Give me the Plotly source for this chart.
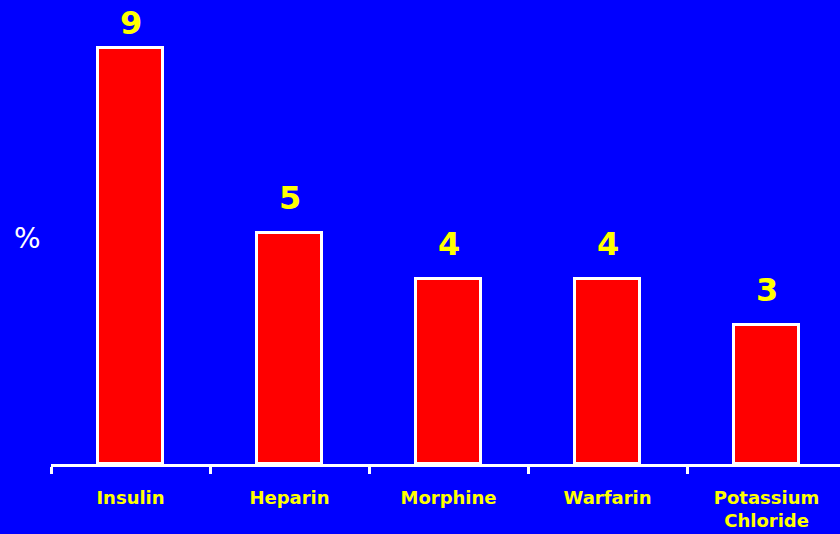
import plotly.graph_objects as go

# Drug names and their share (%)
drugs = ["Insulin", "Heparin", "Morphine", "Warfarin", "Potassium<br>Chloride"]
values = [9, 5, 4, 4, 3]

BLUE = "#0000FF"
RED = "#FF0000"
YELLOW = "#FFFF00"
WHITE = "#FFFFFF"

WIDTH, HEIGHT = 840, 534
MARGIN_L, MARGIN_B = 51, 70
Y_MAX = 10.05
PLOT_H = HEIGHT - MARGIN_B

fig = go.Figure()
fig.add_trace(go.Bar(
    x=drugs,
    y=values,
    width=0.41,
    marker=dict(color=RED, line=dict(color=WHITE, width=3)),
    hoverinfo="skip",
))

# Value labels above each bar, kept clear of the top edge
LABEL_GAP = 35
LABEL_MIN_TOP = 23
for d, v in zip(drugs, values):
    bar_top_px = PLOT_H - v / Y_MAX * PLOT_H
    shift = min(LABEL_GAP, bar_top_px - LABEL_MIN_TOP)
    fig.add_annotation(
        x=d, y=v, text=str(v), showarrow=False,
        xref="x", yref="y", yanchor="middle", yshift=shift,
        font=dict(family="DejaVu Sans", size=32, color=YELLOW, weight="bold"),
    )

# Axis caption, left of the plot area
fig.add_annotation(
    x=-24 / (WIDTH - MARGIN_L), y=(PLOT_H - 238) / PLOT_H,
    xref="paper", yref="paper",
    text="%", showarrow=False, xanchor="center", yanchor="middle",
    font=dict(family="DejaVu Sans", size=28, color=WHITE),
)

fig.update_layout(
    width=WIDTH, height=HEIGHT,
    margin=dict(l=MARGIN_L, r=0, t=0, b=MARGIN_B, autoexpand=False),
    paper_bgcolor=BLUE, plot_bgcolor=BLUE,
    showlegend=False,
    bargap=0,
    xaxis=dict(
        type="category",
        range=[-0.5, 4.462],
        tickson="boundaries",
        ticks="outside", ticklen=7, tickwidth=3, tickcolor=WHITE,
        showline=True, linecolor=WHITE, linewidth=3,
        showgrid=False, zeroline=False,
        ticklabelstandoff=15,
        tickfont=dict(family="DejaVu Sans", size=18, color=YELLOW, weight="bold"),
    ),
    yaxis=dict(
        range=[0, Y_MAX],
        showticklabels=False, showgrid=False, zeroline=False,
        showline=False, ticks="",
    ),
)

fig.write_html("out.html")
